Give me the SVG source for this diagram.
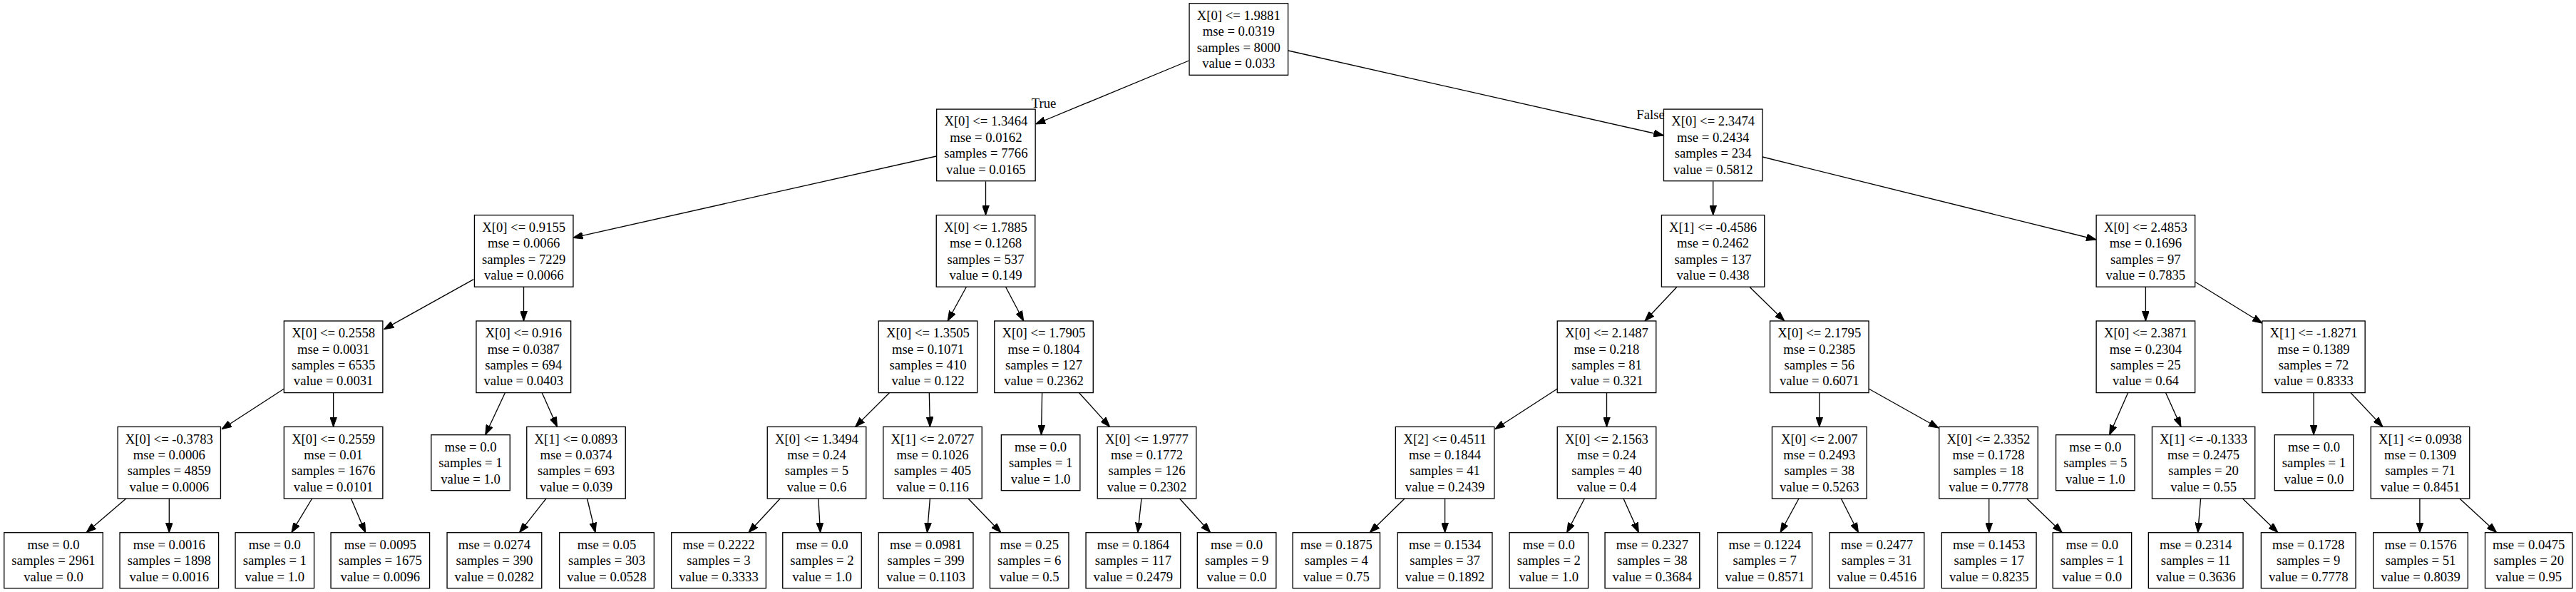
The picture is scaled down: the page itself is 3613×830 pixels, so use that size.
<svg xmlns="http://www.w3.org/2000/svg" width="3613" height="830" viewBox="0 0 3613 830">
<style>
.node rect{fill:#ffffff;stroke:#000000;stroke-width:1.33}
text{font-family:"Liberation Serif","Times New Roman",serif;font-size:18.67px;fill:#000000;text-anchor:middle}
.edges path{fill:none;stroke:#000000;stroke-width:1.33;marker-end:url(#arr)}
</style>
<defs>
<marker id="arr" markerUnits="userSpaceOnUse" markerWidth="14" markerHeight="10" viewBox="0 0 13.4 9.4" refX="13.3" refY="4.7" orient="auto">
<path d="M0,0 L13.3,4.7 L0,9.4 z" fill="#000000" stroke="#000000" stroke-width="1"/>
</marker>
</defs>
<rect x="0" y="0" width="3613" height="830" fill="#ffffff"/>
<g class="edges" id="edges">
<path d="M1667.6,85 L1452.5,174"/>
<path d="M1806.9,71 L2333.4,190"/>
<path d="M1313.3,219 L803.6,333.3"/>
<path d="M1382.5,254.3 L1382.5,301.6"/>
<path d="M2402.7,254.3 L2402.7,301.6"/>
<path d="M2472,220 L2940,336"/>
<path d="M664.3,391.7 L538.5,461.7"/>
<path d="M734.5,402.3 L734.5,450"/>
<path d="M1355.4,402.3 L1329.2,450"/>
<path d="M1410.5,402.3 L1435.7,450"/>
<path d="M2352,402.3 L2307,450"/>
<path d="M2453.9,402.3 L2502.8,450"/>
<path d="M3009.4,402.3 L3009.4,450"/>
<path d="M3078.4,395 L3173,453.3"/>
<path d="M398.5,545 L311,601.7"/>
<path d="M467.6,550.7 L467.6,598.4"/>
<path d="M708.4,550.7 L680.7,609.7"/>
<path d="M760.2,550.7 L781.5,598.4"/>
<path d="M1247.4,550.7 L1199.6,598.4"/>
<path d="M1303.3,550.7 L1304.4,598.4"/>
<path d="M1461.6,550.7 L1460.5,609.7"/>
<path d="M1513.5,550.7 L1556.6,598.4"/>
<path d="M2184.4,545 L2096.8,601.7"/>
<path d="M2253.5,550.7 L2253.5,598.4"/>
<path d="M2551.8,550.7 L2551.8,598.4"/>
<path d="M2620.9,545 L2719,600"/>
<path d="M2984.6,550.7 L2958.6,609.7"/>
<path d="M3037.6,550.7 L3059,598.4"/>
<path d="M3245.1,550.7 L3245.1,609.7"/>
<path d="M3297,550.7 L3342,598.4"/>
<path d="M176.8,699 L121,746.7"/>
<path d="M237.3,699 L237.3,746.7"/>
<path d="M437.7,699 L408.9,746.7"/>
<path d="M492.4,699 L512.6,746.7"/>
<path d="M766,699 L728.5,746.7"/>
<path d="M823.5,699 L835,746.7"/>
<path d="M1094.2,699 L1049.9,746.7"/>
<path d="M1147.8,699 L1150.6,746.7"/>
<path d="M1304.4,699 L1300.4,746.7"/>
<path d="M1358,699 L1404,746.7"/>
<path d="M1601,699 L1595.8,746.7"/>
<path d="M1654.5,699 L1697.7,746.7"/>
<path d="M1970.1,699 L1921.2,746.7"/>
<path d="M2026.6,699 L2026.6,746.7"/>
<path d="M2222.4,699 L2197.6,746.7"/>
<path d="M2277,699 L2298.4,746.7"/>
<path d="M2523,699 L2497,746.7"/>
<path d="M2582.3,699 L2606.5,746.7"/>
<path d="M2789.7,699 L2789.7,746.7"/>
<path d="M2842.7,699 L2892.3,746.7"/>
<path d="M3086.6,699 L3082.6,746.7"/>
<path d="M3145.4,699 L3195,746.7"/>
<path d="M3393.9,699 L3393.9,746.7"/>
<path d="M3449.8,699 L3501.7,746.7"/>
<text x="1464" y="150.5">True</text>
<text x="2315" y="167">False</text>
</g>
<g class="node" id="n0"><rect x="1668.05" y="4.7" width="138.5" height="100.6"/><text x="1737.3" y="27.9">X[0] &lt;= 1.9881</text><text x="1737.3" y="50.3">mse = 0.0319</text><text x="1737.3" y="72.7">samples = 8000</text><text x="1737.3" y="95.1">value = 0.033</text></g>
<g class="node" id="n1"><rect x="1313.65" y="153.1" width="138.5" height="100.6"/><text x="1382.9" y="176.3">X[0] &lt;= 1.3464</text><text x="1382.9" y="198.7">mse = 0.0162</text><text x="1382.9" y="221.1">samples = 7766</text><text x="1382.9" y="243.5">value = 0.0165</text></g>
<g class="node" id="n2"><rect x="2333.45" y="153.1" width="138.5" height="100.6"/><text x="2402.7" y="176.3">X[0] &lt;= 2.3474</text><text x="2402.7" y="198.7">mse = 0.2434</text><text x="2402.7" y="221.1">samples = 234</text><text x="2402.7" y="243.5">value = 0.5812</text></g>
<g class="node" id="n3"><rect x="665.45" y="301.6" width="138.5" height="100.6"/><text x="734.7" y="324.8">X[0] &lt;= 0.9155</text><text x="734.7" y="347.2">mse = 0.0066</text><text x="734.7" y="369.6">samples = 7229</text><text x="734.7" y="392">value = 0.0066</text></g>
<g class="node" id="n4"><rect x="1313.25" y="301.6" width="138.5" height="100.6"/><text x="1382.5" y="324.8">X[0] &lt;= 1.7885</text><text x="1382.5" y="347.2">mse = 0.1268</text><text x="1382.5" y="369.6">samples = 537</text><text x="1382.5" y="392">value = 0.149</text></g>
<g class="node" id="n5"><rect x="2330.45" y="301.6" width="144.3" height="100.6"/><text x="2402.6" y="324.8">X[1] &lt;= -0.4586</text><text x="2402.6" y="347.2">mse = 0.2462</text><text x="2402.6" y="369.6">samples = 137</text><text x="2402.6" y="392">value = 0.438</text></g>
<g class="node" id="n6"><rect x="2940.15" y="301.6" width="138.5" height="100.6"/><text x="3009.4" y="324.8">X[0] &lt;= 2.4853</text><text x="3009.4" y="347.2">mse = 0.1696</text><text x="3009.4" y="369.6">samples = 97</text><text x="3009.4" y="392">value = 0.7835</text></g>
<g class="node" id="n7"><rect x="398.35" y="450" width="138.5" height="100.6"/><text x="467.6" y="473.2">X[0] &lt;= 0.2558</text><text x="467.6" y="495.6">mse = 0.0031</text><text x="467.6" y="518">samples = 6535</text><text x="467.6" y="540.4">value = 0.0031</text></g>
<g class="node" id="n8"><rect x="667.95" y="450" width="132.7" height="100.6"/><text x="734.3" y="473.2">X[0] &lt;= 0.916</text><text x="734.3" y="495.6">mse = 0.0387</text><text x="734.3" y="518">samples = 694</text><text x="734.3" y="540.4">value = 0.0403</text></g>
<g class="node" id="n9"><rect x="1232.25" y="450" width="138.5" height="100.6"/><text x="1301.5" y="473.2">X[0] &lt;= 1.3505</text><text x="1301.5" y="495.6">mse = 0.1071</text><text x="1301.5" y="518">samples = 410</text><text x="1301.5" y="540.4">value = 0.122</text></g>
<g class="node" id="n10"><rect x="1394.75" y="450" width="138.5" height="100.6"/><text x="1464" y="473.2">X[0] &lt;= 1.7905</text><text x="1464" y="495.6">mse = 0.1804</text><text x="1464" y="518">samples = 127</text><text x="1464" y="540.4">value = 0.2362</text></g>
<g class="node" id="n11"><rect x="2184.25" y="450" width="138.5" height="100.6"/><text x="2253.5" y="473.2">X[0] &lt;= 2.1487</text><text x="2253.5" y="495.6">mse = 0.218</text><text x="2253.5" y="518">samples = 81</text><text x="2253.5" y="540.4">value = 0.321</text></g>
<g class="node" id="n12"><rect x="2482.55" y="450" width="138.5" height="100.6"/><text x="2551.8" y="473.2">X[0] &lt;= 2.1795</text><text x="2551.8" y="495.6">mse = 0.2385</text><text x="2551.8" y="518">samples = 56</text><text x="2551.8" y="540.4">value = 0.6071</text></g>
<g class="node" id="n13"><rect x="2940.15" y="450" width="138.5" height="100.6"/><text x="3009.4" y="473.2">X[0] &lt;= 2.3871</text><text x="3009.4" y="495.6">mse = 0.2304</text><text x="3009.4" y="518">samples = 25</text><text x="3009.4" y="540.4">value = 0.64</text></g>
<g class="node" id="n14"><rect x="3172.85" y="450" width="144.3" height="100.6"/><text x="3245" y="473.2">X[1] &lt;= -1.8271</text><text x="3245" y="495.6">mse = 0.1389</text><text x="3245" y="518">samples = 72</text><text x="3245" y="540.4">value = 0.8333</text></g>
<g class="node" id="n15"><rect x="165.15" y="598.4" width="144.3" height="100.6"/><text x="237.3" y="621.6">X[0] &lt;= -0.3783</text><text x="237.3" y="644">mse = 0.0006</text><text x="237.3" y="666.4">samples = 4859</text><text x="237.3" y="688.8">value = 0.0006</text></g>
<g class="node" id="n16"><rect x="398.35" y="598.4" width="138.5" height="100.6"/><text x="467.6" y="621.6">X[0] &lt;= 0.2559</text><text x="467.6" y="644">mse = 0.01</text><text x="467.6" y="666.4">samples = 1676</text><text x="467.6" y="688.8">value = 0.0101</text></g>
<g class="node" id="n17"><rect x="604.75" y="609.7" width="110.5" height="78"/><text x="660" y="632.8">mse = 0.0</text><text x="660" y="655.2">samples = 1</text><text x="660" y="677.6">value = 1.0</text></g>
<g class="node" id="n18"><rect x="738.75" y="598.4" width="138.5" height="100.6"/><text x="808" y="621.6">X[1] &lt;= 0.0893</text><text x="808" y="644">mse = 0.0374</text><text x="808" y="666.4">samples = 693</text><text x="808" y="688.8">value = 0.039</text></g>
<g class="node" id="n19"><rect x="1076.25" y="598.4" width="138.5" height="100.6"/><text x="1145.5" y="621.6">X[0] &lt;= 1.3494</text><text x="1145.5" y="644">mse = 0.24</text><text x="1145.5" y="666.4">samples = 5</text><text x="1145.5" y="688.8">value = 0.6</text></g>
<g class="node" id="n20"><rect x="1238.75" y="598.4" width="138.5" height="100.6"/><text x="1308" y="621.6">X[1] &lt;= 2.0727</text><text x="1308" y="644">mse = 0.1026</text><text x="1308" y="666.4">samples = 405</text><text x="1308" y="688.8">value = 0.116</text></g>
<g class="node" id="n21"><rect x="1404.35" y="609.7" width="110.5" height="78"/><text x="1459.6" y="632.8">mse = 0.0</text><text x="1459.6" y="655.2">samples = 1</text><text x="1459.6" y="677.6">value = 1.0</text></g>
<g class="node" id="n22"><rect x="1539.25" y="598.4" width="138.5" height="100.6"/><text x="1608.5" y="621.6">X[0] &lt;= 1.9777</text><text x="1608.5" y="644">mse = 0.1772</text><text x="1608.5" y="666.4">samples = 126</text><text x="1608.5" y="688.8">value = 0.2302</text></g>
<g class="node" id="n23"><rect x="1957.35" y="598.4" width="138.5" height="100.6"/><text x="2026.6" y="621.6">X[2] &lt;= 0.4511</text><text x="2026.6" y="644">mse = 0.1844</text><text x="2026.6" y="666.4">samples = 41</text><text x="2026.6" y="688.8">value = 0.2439</text></g>
<g class="node" id="n24"><rect x="2184.25" y="598.4" width="138.5" height="100.6"/><text x="2253.5" y="621.6">X[0] &lt;= 2.1563</text><text x="2253.5" y="644">mse = 0.24</text><text x="2253.5" y="666.4">samples = 40</text><text x="2253.5" y="688.8">value = 0.4</text></g>
<g class="node" id="n25"><rect x="2485.45" y="598.4" width="132.7" height="100.6"/><text x="2551.8" y="621.6">X[0] &lt;= 2.007</text><text x="2551.8" y="644">mse = 0.2493</text><text x="2551.8" y="666.4">samples = 38</text><text x="2551.8" y="688.8">value = 0.5263</text></g>
<g class="node" id="n26"><rect x="2719.75" y="598.4" width="138.5" height="100.6"/><text x="2789" y="621.6">X[0] &lt;= 2.3352</text><text x="2789" y="644">mse = 0.1728</text><text x="2789" y="666.4">samples = 18</text><text x="2789" y="688.8">value = 0.7778</text></g>
<g class="node" id="n27"><rect x="2883.55" y="609.7" width="110.5" height="78"/><text x="2938.8" y="632.8">mse = 0.0</text><text x="2938.8" y="655.2">samples = 5</text><text x="2938.8" y="677.6">value = 1.0</text></g>
<g class="node" id="n28"><rect x="3018.45" y="598.4" width="144.3" height="100.6"/><text x="3090.6" y="621.6">X[1] &lt;= -0.1333</text><text x="3090.6" y="644">mse = 0.2475</text><text x="3090.6" y="666.4">samples = 20</text><text x="3090.6" y="688.8">value = 0.55</text></g>
<g class="node" id="n29"><rect x="3190.25" y="609.7" width="110.5" height="78"/><text x="3245.5" y="632.8">mse = 0.0</text><text x="3245.5" y="655.2">samples = 1</text><text x="3245.5" y="677.6">value = 0.0</text></g>
<g class="node" id="n30"><rect x="3325.25" y="598.4" width="138.5" height="100.6"/><text x="3394.5" y="621.6">X[1] &lt;= 0.0938</text><text x="3394.5" y="644">mse = 0.1309</text><text x="3394.5" y="666.4">samples = 71</text><text x="3394.5" y="688.8">value = 0.8451</text></g>
<g class="node" id="l1"><rect x="5.75" y="746.7" width="138.5" height="78"/><text x="75" y="769.8">mse = 0.0</text><text x="75" y="792.2">samples = 2961</text><text x="75" y="814.6">value = 0.0</text></g>
<g class="node" id="l2"><rect x="168.05" y="746.7" width="138.5" height="78"/><text x="237.3" y="769.8">mse = 0.0016</text><text x="237.3" y="792.2">samples = 1898</text><text x="237.3" y="814.6">value = 0.0016</text></g>
<g class="node" id="l3"><rect x="330.05" y="746.7" width="110.5" height="78"/><text x="385.3" y="769.8">mse = 0.0</text><text x="385.3" y="792.2">samples = 1</text><text x="385.3" y="814.6">value = 1.0</text></g>
<g class="node" id="l4"><rect x="464.05" y="746.7" width="138.5" height="78"/><text x="533.3" y="769.8">mse = 0.0095</text><text x="533.3" y="792.2">samples = 1675</text><text x="533.3" y="814.6">value = 0.0096</text></g>
<g class="node" id="l5"><rect x="627.05" y="746.7" width="132.7" height="78"/><text x="693.4" y="769.8">mse = 0.0274</text><text x="693.4" y="792.2">samples = 390</text><text x="693.4" y="814.6">value = 0.0282</text></g>
<g class="node" id="l6"><rect x="784.65" y="746.7" width="132.7" height="78"/><text x="851" y="769.8">mse = 0.05</text><text x="851" y="792.2">samples = 303</text><text x="851" y="814.6">value = 0.0528</text></g>
<g class="node" id="l7"><rect x="941.65" y="746.7" width="132.7" height="78"/><text x="1008" y="769.8">mse = 0.2222</text><text x="1008" y="792.2">samples = 3</text><text x="1008" y="814.6">value = 0.3333</text></g>
<g class="node" id="l8"><rect x="1097.75" y="746.7" width="110.5" height="78"/><text x="1153" y="769.8">mse = 0.0</text><text x="1153" y="792.2">samples = 2</text><text x="1153" y="814.6">value = 1.0</text></g>
<g class="node" id="l9"><rect x="1232.25" y="746.7" width="132.7" height="78"/><text x="1298.6" y="769.8">mse = 0.0981</text><text x="1298.6" y="792.2">samples = 399</text><text x="1298.6" y="814.6">value = 0.1103</text></g>
<g class="node" id="l10"><rect x="1388.45" y="746.7" width="110.5" height="78"/><text x="1443.7" y="769.8">mse = 0.25</text><text x="1443.7" y="792.2">samples = 6</text><text x="1443.7" y="814.6">value = 0.5</text></g>
<g class="node" id="l11"><rect x="1523.05" y="746.7" width="132.7" height="78"/><text x="1589.4" y="769.8">mse = 0.1864</text><text x="1589.4" y="792.2">samples = 117</text><text x="1589.4" y="814.6">value = 0.2479</text></g>
<g class="node" id="l12"><rect x="1679.35" y="746.7" width="110.5" height="78"/><text x="1734.6" y="769.8">mse = 0.0</text><text x="1734.6" y="792.2">samples = 9</text><text x="1734.6" y="814.6">value = 0.0</text></g>
<g class="node" id="l13"><rect x="1813.1" y="746.7" width="122.4" height="78"/><text x="1874.3" y="769.8">mse = 0.1875</text><text x="1874.3" y="792.2">samples = 4</text><text x="1874.3" y="814.6">value = 0.75</text></g>
<g class="node" id="l14"><rect x="1960.25" y="746.7" width="132.7" height="78"/><text x="2026.6" y="769.8">mse = 0.1534</text><text x="2026.6" y="792.2">samples = 37</text><text x="2026.6" y="814.6">value = 0.1892</text></g>
<g class="node" id="l15"><rect x="2117.05" y="746.7" width="110.5" height="78"/><text x="2172.3" y="769.8">mse = 0.0</text><text x="2172.3" y="792.2">samples = 2</text><text x="2172.3" y="814.6">value = 1.0</text></g>
<g class="node" id="l16"><rect x="2251.05" y="746.7" width="132.7" height="78"/><text x="2317.4" y="769.8">mse = 0.2327</text><text x="2317.4" y="792.2">samples = 38</text><text x="2317.4" y="814.6">value = 0.3684</text></g>
<g class="node" id="l17"><rect x="2408.85" y="746.7" width="132.7" height="78"/><text x="2475.2" y="769.8">mse = 0.1224</text><text x="2475.2" y="792.2">samples = 7</text><text x="2475.2" y="814.6">value = 0.8571</text></g>
<g class="node" id="l18"><rect x="2566.05" y="746.7" width="132.7" height="78"/><text x="2632.4" y="769.8">mse = 0.2477</text><text x="2632.4" y="792.2">samples = 31</text><text x="2632.4" y="814.6">value = 0.4516</text></g>
<g class="node" id="l19"><rect x="2723.35" y="746.7" width="132.7" height="78"/><text x="2789.7" y="769.8">mse = 0.1453</text><text x="2789.7" y="792.2">samples = 17</text><text x="2789.7" y="814.6">value = 0.8235</text></g>
<g class="node" id="l20"><rect x="2879.15" y="746.7" width="110.5" height="78"/><text x="2934.4" y="769.8">mse = 0.0</text><text x="2934.4" y="792.2">samples = 1</text><text x="2934.4" y="814.6">value = 0.0</text></g>
<g class="node" id="l21"><rect x="3013.35" y="746.7" width="132.7" height="78"/><text x="3079.7" y="769.8">mse = 0.2314</text><text x="3079.7" y="792.2">samples = 11</text><text x="3079.7" y="814.6">value = 0.3636</text></g>
<g class="node" id="l22"><rect x="3171.35" y="746.7" width="132.7" height="78"/><text x="3237.7" y="769.8">mse = 0.1728</text><text x="3237.7" y="792.2">samples = 9</text><text x="3237.7" y="814.6">value = 0.7778</text></g>
<g class="node" id="l23"><rect x="3328.65" y="746.7" width="132.7" height="78"/><text x="3395" y="769.8">mse = 0.1576</text><text x="3395" y="792.2">samples = 51</text><text x="3395" y="814.6">value = 0.8039</text></g>
<g class="node" id="l24"><rect x="3485.5" y="746.7" width="122.4" height="78"/><text x="3546.7" y="769.8">mse = 0.0475</text><text x="3546.7" y="792.2">samples = 20</text><text x="3546.7" y="814.6">value = 0.95</text></g>
</svg>
